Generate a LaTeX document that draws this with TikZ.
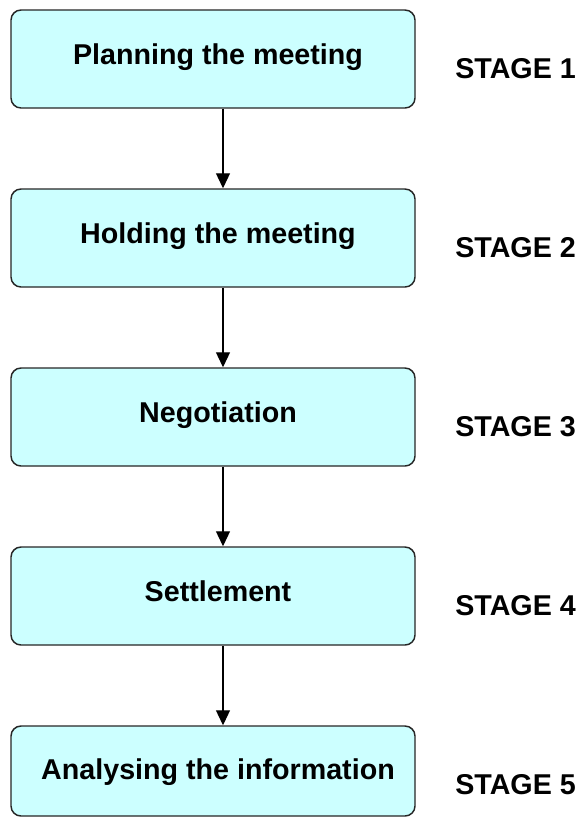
\documentclass[tikz,border=0pt]{standalone}
\usepackage{fontspec}
\setmainfont{Liberation Sans}
\usetikzlibrary{arrows.meta,calc}
\definecolor{boxfill}{HTML}{CCFFFF}

\begin{document}
\begin{tikzpicture}[
    x=0.75pt, y=-0.75pt,
    stagebox/.style={rectangle, rounded corners=7.5pt, draw=black!85, line width=1.1pt, fill=boxfill, minimum width=303pt, minimum height=73.5pt, align=center, font=\fontsize{21.5}{25}\selectfont\bfseries, text height=13.5pt, text depth=6pt, execute at begin node=\hspace*{7.5pt}},
    stagelabel/.style={anchor=west, inner sep=0pt, font=\fontsize{21.5}{25}\selectfont\bfseries},
    arrow/.style={-{Triangle[length=11.25pt, width=10.5pt]}, line width=0.9pt}
]
\useasboundingbox (0,0) rectangle (581,818);

% Stages
\node[stagebox] (plan) at (213, 59) {Planning the meeting};
\node[stagebox] (hold) at (213, 238) {Holding the meeting};
\node[stagebox] (nego) at (213, 417) {Negotiation};
\node[stagebox] (settle) at (213, 596) {Settlement};
\node[stagebox, minimum height=67.5pt, text depth=0.75pt] (analyse) at (213, 771) {Analysing the information};

% Arrows
\draw[arrow] ($(plan.south)+(10,0)$) -- ($(hold.north)+(10,0)$);
\draw[arrow] ($(hold.south)+(10,0)$) -- ($(nego.north)+(10,0)$);
\draw[arrow] ($(nego.south)+(10,0)$) -- ($(settle.north)+(10,0)$);
\draw[arrow] ($(settle.south)+(10,0)$) -- ($(analyse.north)+(10,0)$);

% Labels
\node[stagelabel] (s1) at (455, 69) {STAGE 1};
\node[stagelabel] (s2) at (455, 248) {STAGE 2};
\node[stagelabel] (s3) at (455, 427) {STAGE 3};
\node[stagelabel] (s4) at (455, 606) {STAGE 4};
\node[stagelabel] (s5) at (455, 785) {STAGE 5};

\end{tikzpicture}
\end{document}
